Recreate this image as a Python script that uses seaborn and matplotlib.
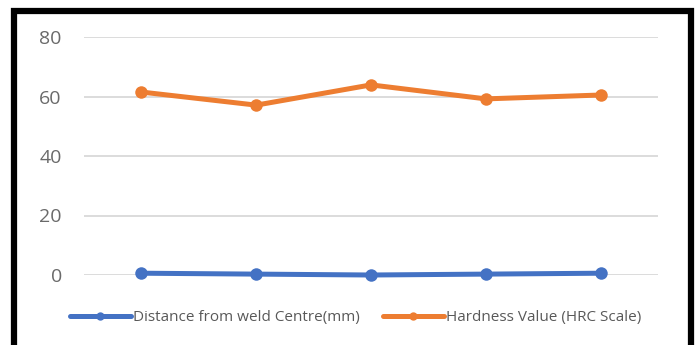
import pandas as pd
import matplotlib.pyplot as plt
import seaborn as sns
from matplotlib.patches import Rectangle

# values
points = [1, 2, 3, 4, 5]
distance_mm = [0.6, 0.3, 0.0, 0.3, 0.6]
hardness_hrc = [61.5, 57.1, 63.9, 59.2, 60.5]
series_names = ["Distance from weld Centre(mm)", "Hardness Value (HRC Scale)"]
y_ticks = [0, 20, 40, 60, 80]

df = pd.DataFrame({
    "x": list(range(len(points))) * 2,
    "value": distance_mm + hardness_hrc,
    "series": [series_names[0]] * len(points) + [series_names[1]] * len(points),
})

sns.set_theme(style="white")
plt.rcParams['font.family'] = ['Open Sans', 'DejaVu Sans']

fig = plt.figure(figsize=(6.97, 3.45), dpi=100)
ax = fig.add_axes([84 / 697, 70 / 345, 574 / 697, 238 / 345])

palette = {series_names[0]: "#4472C4", series_names[1]: "#ED7D31"}
sns.lineplot(data=df, x="x", y="value", hue="series", palette=palette,
             marker="o", markersize=9, markeredgewidth=0, linewidth=3.6,
             ax=ax, legend=True, clip_on=False, zorder=3)

ax.set_xlim(-0.5, len(points) - 0.5)
ax.set_ylim(0, 80)
ax.set_yticks(y_ticks)
ax.set_xticks([])
ax.set_xlabel("")
ax.set_ylabel("")
ax.grid(axis="y", color="#D9D9D9", linewidth=1.3)
ax.set_axisbelow(True)
for s in ax.spines.values():
    s.set_visible(False)
ax.tick_params(axis="y", length=0, pad=16, labelsize=14, labelcolor="#6a6a6a")

handles, labels = ax.get_legend_handles_labels()
ax.get_legend().remove()
leg = fig.legend(handles, labels, loc="center", bbox_to_anchor=(0.51, 1 - 318 / 345),
                 ncol=2, frameon=False, fontsize=11, handlelength=4.0,
                 handletextpad=0.15, columnspacing=1.5)
for line in leg.get_lines():
    line.set_markersize(6)
    line.set_linewidth(3.6)
for t in leg.get_texts():
    t.set_color("#595959")

# thick black frame around the chart (no bottom edge visible)
fig.patches.append(Rectangle((14 / 697, -0.2), 677 / 697, 1.2 - 11 / 345,
                             transform=fig.transFigure, fill=False,
                             edgecolor="black", linewidth=4.5))

fig.savefig("out.png", dpi=100)
